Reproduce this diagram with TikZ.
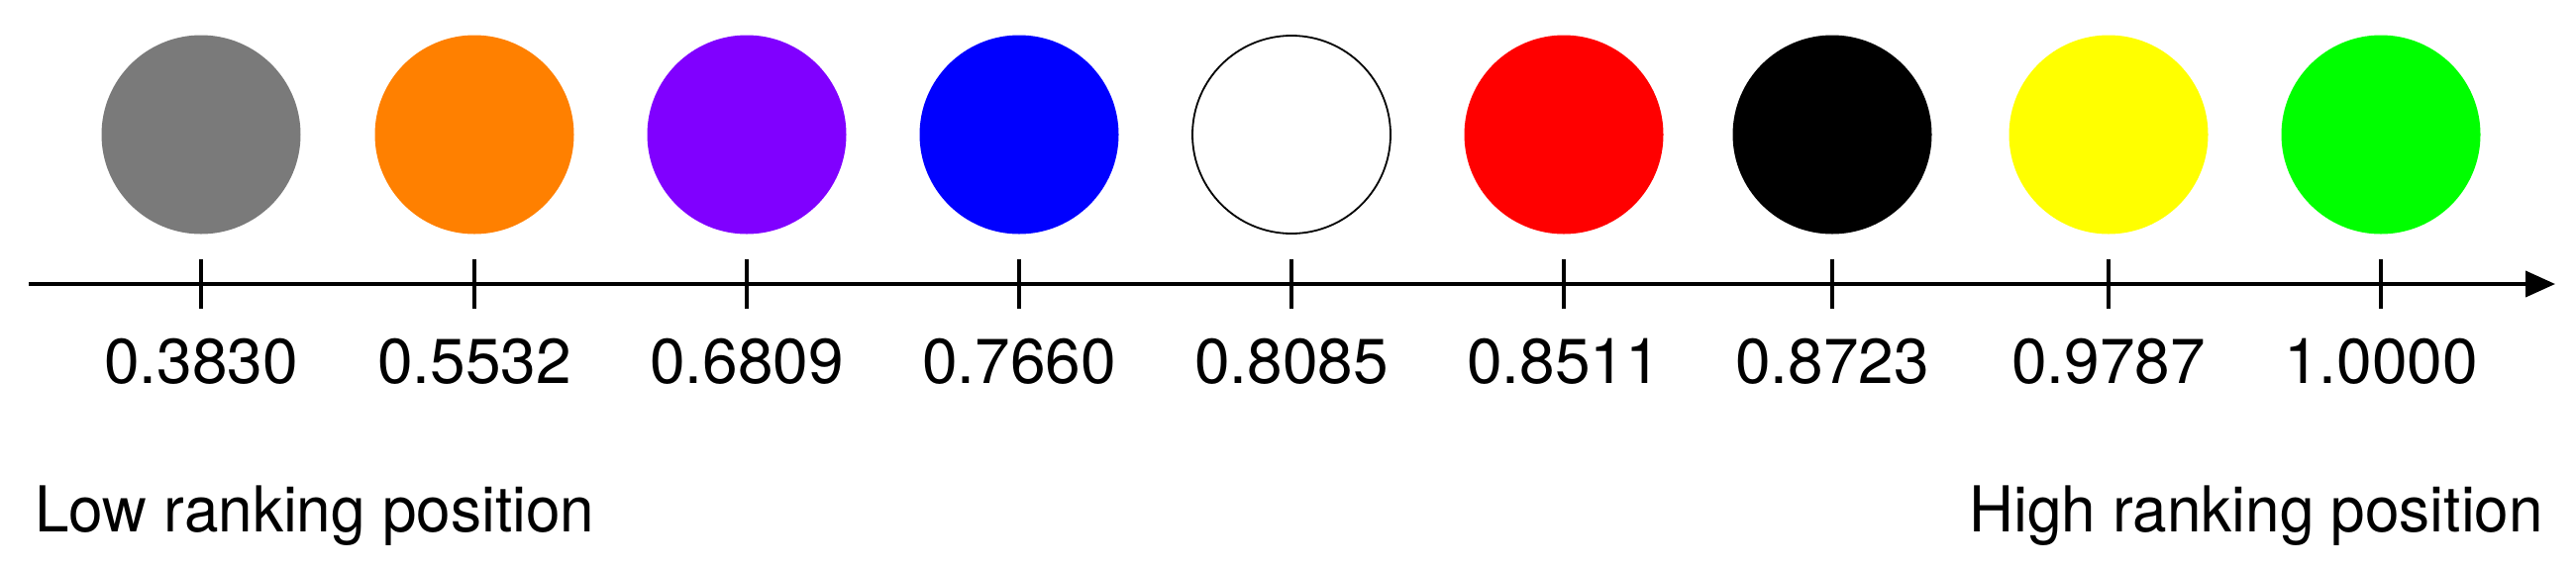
\documentclass[tikz,border=0pt]{standalone}
\usepackage{fontspec}
\usepackage{graphicx}
\setmainfont{TeX Gyre Heros}
\usetikzlibrary{arrows.meta}
\definecolor{cgray}{HTML}{7A7A7A}
\definecolor{corange}{HTML}{FF8000}
\definecolor{cpurple}{HTML}{8000FF}
\definecolor{cblue}{HTML}{0000FF}
\definecolor{cred}{HTML}{FF0000}
\definecolor{cyellow}{HTML}{FFFF00}
\definecolor{cgreen}{HTML}{00FF00}
\begin{document}
\begin{tikzpicture}[x=1pt,y=-1pt,
  dot/.style={circle,minimum size=201pt,inner sep=0pt,draw=none},
  tickmark/.style={line width=4pt},
  val/.style={anchor=base,font=\fontsize{64}{76}\selectfont,inner sep=0pt},
  side/.style={font=\fontsize{64}{76}\selectfont,inner sep=0pt},
  axisline/.style={line width=4pt,-{Triangle[length=30pt,width=26pt]}}]
\useasboundingbox (0,0) rectangle (2601,574);
\coordinate (astart) at (29,287);
\coordinate (aend) at (2580,287);
\draw[axisline] (astart) -- (aend);
\foreach \i/\x/\c/\v in {1/203/cgray/0.3830, 2/479/corange/0.5532, 3/754/cpurple/0.6809,
  4/1029/cblue/0.7660, 5/1304/white/0.8085, 6/1579/cred/0.8511, 7/1850/black/0.8723,
  8/2129/cyellow/0.9787, 9/2404/cgreen/1.0000}{
  \node[dot,fill=\c] (c\i) at (\x,136) {};
  \coordinate (t\i a) at (\x,262);
  \coordinate (t\i b) at (\x,312);
  \draw[tickmark] (t\i a) -- (t\i b);
  \node[val] (v\i) at (\x,387) {\v};
}
\draw[line width=1.8pt] (c5.center) circle (100pt);
\node[side,anchor=base west] (low) at (35,537) {\scalebox{0.97}[1]{Low ranking position}};
\node[side,anchor=base east] (high) at (2568,537) {\scalebox{0.97}[1]{High ranking position}};
\end{tikzpicture}
\end{document}
